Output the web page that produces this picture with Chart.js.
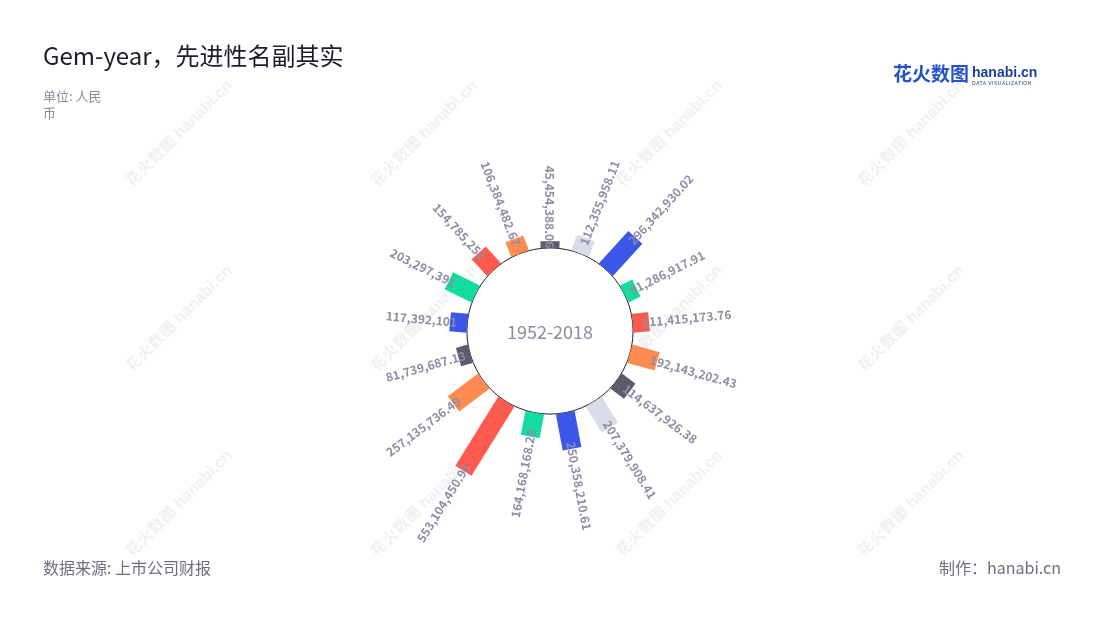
<!DOCTYPE html>
<html>
<head>
<meta charset="utf-8">
<script src="https://cdn.jsdelivr.net/npm/chart.js@4"></script>
<style>
  html, body { margin: 0; padding: 0; background: #fff; }
  body { width: 1100px; height: 620px; position: relative; overflow: hidden; font-family: "Noto Sans CJK SC", "Noto Sans", sans-serif; }
  #chart { position: absolute; left: 0; top: 0; }
  .wm { position: absolute; width: 160px; height: 22px; margin-left: -80px; margin-top: -11px; transform: rotate(-45deg); color: #f1f1f3; white-space: nowrap; font-weight: bold; }
  .wm .cn { font-size: 15px; letter-spacing: 1px; }
  .wm .en { font-size: 16px; margin-left: 4px; font-family: "Liberation Sans", sans-serif; }
  #title { position: absolute; left: 43px; top: 39px; font-size: 24px; line-height: 32px; color: #1d1d2c; }
  #unit { position: absolute; left: 43px; top: 87px; font-size: 13px; line-height: 17px; color: #8a8a9c; }
  #source { position: absolute; left: 43px; top: 556px; font-size: 16px; line-height: 22px; color: #6e6e80; }
  #maker { position: absolute; right: 39px; top: 556px; font-size: 16px; line-height: 22px; color: #6e6e80; }
  #logo { position: absolute; left: 893px; top: 60px; white-space: nowrap; }
  #logo .cn { font-size: 19px; font-weight: bold; color: #2452c8; vertical-align: top; line-height: 26px; }
  #logo .en { display: inline-block; vertical-align: top; margin-left: 3px; font-family: "Liberation Sans", sans-serif; }
  #logo .en b { display: block; font-size: 14px; line-height: 16px; color: #1f3f9f; margin-top: 4px; }
  #logo .en i { display: block; font-style: normal; font-size: 5px; line-height: 6px; color: #1f3f9f; letter-spacing: 0.5px; }
</style>
</head>
<body>
<div id="marks"></div>
<canvas id="chart" width="1100" height="620"></canvas>
<div id="title">Gem-year，先进性名副其实</div>
<div id="unit">单位: 人民<br>币</div>
<div id="source">数据来源: 上市公司财报</div>
<div id="maker">制作：hanabi.cn</div>
<div id="logo"><span class="cn">花火数图</span><span class="en"><b>hanabi.cn</b><i>DATA VISUALIZATION</i></span></div>
<script>
// Datos de las barras (sentido horario desde arriba)
const values = [
    45454388.06, 112355958.11, 296342930.02, 91286917.91, 111415173.76, 192143202.43,
    114637926.38, 207379908.41, 250358210.61, 164168168.29, 553104450.91, 257135736.49,
    81739687.13, 117392101, 203297391, 154785252, 106384482.67
];
const barColors = [
    '#5b5c6b', '#d9dde9', '#3b57e8', '#14dca0', '#fe5b4f', '#fe8c52',
    '#5b5c6b', '#d9dde9', '#3b57e8', '#14dca0', '#fe5b4f', '#fe8c52',
    '#5b5c6b', '#3b57e8', '#14dca0', '#fe5b4f', '#fe8c52'
];
const centerLabel = '1952-2018';

// Hueco central y rango de los ejes (en las mismas unidades que los valores)
const HOLE = 565e6;
const RANGE = 1700e6;

// Marcas de agua
[[183, 125], [428, 125], [673, 125], [915, 125],
 [183, 310], [428, 310], [673, 310], [915, 310],
 [183, 495], [428, 495], [673, 495], [915, 495]].forEach(([x, y]) => {
    const d = document.createElement('div');
    d.className = 'wm';
    d.style.left = x + 'px';
    d.style.top = y + 'px';
    d.innerHTML = '<span class="cn">花火数图</span><span class="en">hanabi.cn</span>';
    document.getElementById('marks').appendChild(d);
});

const angleOf = i => i * 2 * Math.PI / values.length;
const fmt = v => v.toLocaleString('en-US', { maximumFractionDigits: 2 });

const barDatasets = values.map((v, i) => {
    const a = angleOf(i);
    return {
        data: [
            { x: HOLE * Math.sin(a), y: HOLE * Math.cos(a) },
            { x: (HOLE + v) * Math.sin(a), y: (HOLE + v) * Math.cos(a) }
        ],
        showLine: true,
        borderColor: barColors[i],
        borderWidth: 19,
        borderCapStyle: 'butt',
        pointRadius: 0,
        pointHoverRadius: 0
    };
});

const holeRadius = ctx => ctx.chart.scales.x.getPixelForValue(HOLE) - ctx.chart.scales.x.getPixelForValue(0);

const circleDataset = {
    data: [{ x: 0, y: 0 }],
    pointRadius: holeRadius,
    pointHoverRadius: holeRadius,
    pointBackgroundColor: '#fff',
    pointBorderColor: '#222',
    pointBorderWidth: 1
};

// Etiquetas radiales y texto central
const radialLabels = {
    id: 'radialLabels',
    afterDatasetsDraw(chart) {
        const { ctx, scales: { x, y } } = chart;
        const cx = x.getPixelForValue(0), cy = y.getPixelForValue(0);
        ctx.save();
        ctx.font = 'bold 12px "Noto Sans CJK SC"';
        ctx.fillStyle = '#8d8ea6';
        ctx.textBaseline = 'middle';
        values.forEach((v, i) => {
            const a = angleOf(i);
            const px = x.getPixelForValue((HOLE + v) * Math.sin(a));
            const py = y.getPixelForValue((HOLE + v) * Math.cos(a));
            const dist = Math.hypot(px - cx, py - cy) - 7;
            ctx.save();
            ctx.translate(cx, cy);
            if (a > 0 && a < Math.PI) {
                ctx.rotate(a - Math.PI / 2);
                ctx.textAlign = 'left';
                ctx.fillText(fmt(v), dist, 0);
            } else {
                ctx.rotate(a + Math.PI / 2);
                ctx.textAlign = 'right';
                ctx.fillText(fmt(v), -dist, 0);
            }
            ctx.restore();
        });
        ctx.font = '18px "Noto Sans CJK SC"';
        ctx.textAlign = 'center';
        ctx.fillStyle = '#8b8ca3';
        ctx.fillText(centerLabel, cx, cy + 1);
        ctx.restore();
    }
};

const chart = new Chart(document.getElementById('chart'), {
    type: 'scatter',
    data: { datasets: [...barDatasets, circleDataset] },
    options: {
        responsive: false,
        animation: false,
        devicePixelRatio: 1,
        layout: { padding: { left: 300, right: 300, top: 81, bottom: 39 } },
        scales: {
            x: { display: false, min: -RANGE, max: RANGE },
            y: { display: false, min: -RANGE, max: RANGE }
        },
        plugins: {
            legend: { display: false },
            tooltip: { enabled: false }
        }
    },
    plugins: [radialLabels]
});
</script>
</body>
</html>
